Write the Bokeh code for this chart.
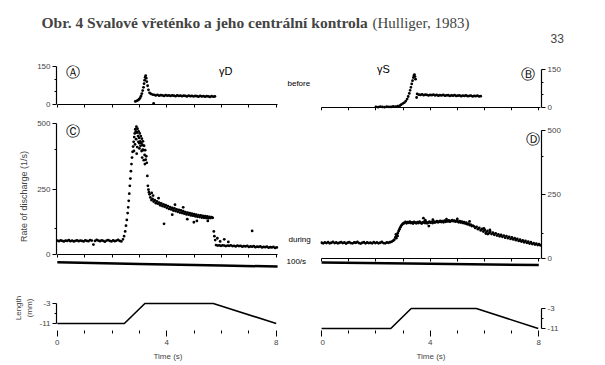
from bokeh.plotting import figure
from bokeh.layouts import column, row
from bokeh.models import Range1d, FixedTicker, Label, Spacer
from bokeh.embed import file_html
from bokeh.resources import INLINE

# ---------------- data ----------------
TITLE_BOLD = "Obr. 4 Svalové vřeténko a jeho centrální kontrola"
TITLE_REF = "(Hulliger, 1983)"
PAGE_NO = "33"

TIME_MAJOR = [0, 4, 8]
TIME_MINOR = [1, 2, 3, 5, 6, 7]
TIME_ALL = [0, 1, 2, 3, 4, 5, 6, 7, 8]
RATE_TICKS_SMALL = [0, 150]
RATE_MINOR_SMALL = [50, 100]
RATE_TICKS_BIG = [0, 250, 500]
RATE_MINOR_BIG = [100, 400]
LEN_TICKS = [-11, -3]
LEN_MINOR = [-7]

# (A) gamma-D, before
a_t = [2.85, 2.90, 2.95, 2.99, 3.03, 3.06, 3.09, 3.12, 3.15, 3.17, 3.19, 3.21, 3.23, 3.25, 3.27, 3.30, 3.33, 3.37, 3.52,
       3.42, 3.48, 3.54, 3.60, 3.66, 3.72, 3.78, 3.84, 3.90, 3.96, 4.02, 4.08, 4.14, 4.20, 4.26, 4.32, 4.38, 4.44, 4.50, 4.56,
       4.62, 4.68, 4.74, 4.80, 4.86, 4.92, 4.98, 5.04, 5.10, 5.16, 5.22, 5.28, 5.34, 5.40, 5.46, 5.52, 5.58, 5.64, 5.70, 5.76]
a_v = [12, 14, 17, 21, 27, 34, 43, 55, 68, 82, 96, 108, 114, 104, 90, 74, 58, 46, 4,
       42, 39, 38, 36, 38, 35, 37, 36, 34, 37, 35, 36, 34, 36, 35, 33, 36, 34, 35, 33,
       35, 34, 32, 35, 33, 34, 32, 34, 33, 31, 34, 32, 33, 31, 33, 32, 30, 33, 31, 32]

# (B) gamma-S, before
b_t = [2.00, 2.08, 2.16, 2.24, 2.32, 2.40, 2.48, 2.56, 2.64, 2.72, 2.80, 2.88,
       2.93, 2.99, 3.05, 3.10, 3.15, 3.19, 3.23, 3.26, 3.29, 3.32, 3.35, 3.38, 3.40, 3.42, 3.44, 3.46, 3.50,
       3.52, 3.58, 3.64, 3.70, 3.76, 3.82, 3.88, 3.94, 4.00, 4.06, 4.12, 4.18, 4.24, 4.30, 4.36, 4.42, 4.48, 4.54, 4.60, 4.66,
       4.72, 4.78, 4.84, 4.90, 4.96, 5.02, 5.08, 5.14, 5.20, 5.26, 5.32, 5.38, 5.44, 5.50, 5.56, 5.62, 5.68, 5.74, 5.80, 5.86]
b_v = [3, 2, 4, 3, 2, 4, 3, 3, 5, 4, 6, 8,
       12, 16, 20, 26, 34, 44, 56, 68, 80, 93, 106, 118, 126, 130, 122, 112, 40,
       54, 51, 50, 52, 49, 51, 50, 48, 50, 49, 51, 48, 50, 47, 49, 48, 50, 47, 48, 49,
       46, 48, 47, 49, 46, 47, 48, 45, 47, 46, 48, 45, 46, 47, 44, 46, 45, 47, 44, 45]

# (C) gamma-D, during
c_base_t = [0.00, 0.06, 0.12, 0.18, 0.24, 0.30, 0.36, 0.42, 0.48, 0.54, 0.60, 0.66, 0.72, 0.78, 0.84, 0.90, 0.96, 1.02,
            1.08, 1.14, 1.20, 1.26, 1.32, 1.38, 1.44, 1.50, 1.56, 1.62, 1.68, 1.74, 1.80, 1.86, 1.92, 1.98, 2.04, 2.10,
            2.16, 2.22, 2.28, 2.34, 2.40]
c_base_v = [53, 51, 54, 52, 50, 53, 52, 55, 51, 53, 50, 52, 54, 51, 53, 52, 50, 54, 52, 51, 55, 53, 38, 52, 56, 53,
            51, 54, 52, 49, 53, 55, 52, 50, 54, 51, 53, 56, 52, 50, 58]
c_rise_t = [2.44, 2.48, 2.51, 2.54, 2.57, 2.59, 2.61, 2.63, 2.65, 2.67, 2.69, 2.71, 2.73, 2.75, 2.77, 2.79, 2.81, 2.83,
            2.85, 2.87, 2.89, 2.91, 2.93, 2.95, 2.97, 2.99, 3.01, 3.03, 3.05, 3.07, 3.09, 3.11, 3.13, 3.15, 3.17, 3.19,
            3.21, 3.23, 3.25, 3.27, 3.29, 3.31, 3.33, 3.35, 3.37]
c_rise_v = [70, 88, 110, 132, 158, 180, 205, 232, 262, 290, 318, 345, 370, 392, 412, 430, 448, 462, 478, 470, 488, 465,
            480, 452, 470, 445, 462, 432, 452, 425, 442, 418, 432, 398, 415, 380, 398, 362, 375, 350, 300, 262, 248,
            238, 230]
c_peak_t = [2.80, 2.84, 2.88, 2.90, 2.92, 2.96, 3.00, 3.00, 3.04, 3.08, 3.10, 3.12, 3.16, 3.20]
c_peak_v = [395, 420, 440, 385, 410, 430, 405, 425, 415, 395, 370, 400, 360, 345]
c_decay_t = [3.40, 3.44, 3.48, 3.52, 3.56, 3.60, 3.64, 3.68, 3.72, 3.76, 3.80, 3.84, 3.88, 3.92, 3.96, 4.00, 4.04, 4.08,
             4.12, 4.16, 4.20, 4.24, 4.28, 4.32, 4.36, 4.40, 4.44, 4.48, 4.52, 4.56, 4.60, 4.64, 4.68, 4.72, 4.76, 4.80,
             4.84, 4.88, 4.92, 4.96, 5.00, 5.04, 5.08, 5.12, 5.16, 5.20, 5.24, 5.28, 5.32, 5.36, 5.40, 5.44, 5.48, 5.52,
             5.56, 5.60, 5.64, 5.68]
c_decay_v = [218, 208, 212, 202, 207, 196, 203, 194, 198, 188, 195, 185, 191, 182, 188, 178, 185, 174, 181, 172,
             178, 168, 176, 166, 172, 163, 170, 160, 168, 158, 165, 156, 162, 153, 160, 152, 158, 149, 156, 148,
             154, 146, 152, 144, 150, 143, 149, 141, 147, 140, 146, 139, 145, 138, 144, 139, 143, 140]
c_extra_t = [3.45, 3.50, 3.70, 3.90, 4.20, 4.30, 4.60, 4.75, 4.99, 5.10, 5.50, 5.72, 5.74, 5.77, 5.85, 5.95, 6.10, 6.25, 7.12]
c_extra_v = [235, 225, 215, 117, 152, 190, 180, 135, 123, 128, 128, 88, 70, 55, 62, 50, 58, 48, 90]
c_low_t = [5.80, 5.86, 5.92, 5.98, 6.04, 6.10, 6.16, 6.22, 6.28, 6.34, 6.40, 6.46, 6.52, 6.58, 6.64, 6.70, 6.76, 6.82,
           6.88, 6.94, 7.00, 7.06, 7.12, 7.18, 7.24, 7.30, 7.36, 7.42, 7.48, 7.54, 7.60, 7.66, 7.72, 7.78, 7.84, 7.90,
           7.96, 8.02]
c_low_v = [36, 34, 35, 33, 35, 34, 32, 34, 33, 35, 32, 33, 31, 34, 32, 33, 30, 32, 31, 33, 29, 31, 30, 32, 28, 30,
           29, 31, 27, 29, 28, 30, 26, 28, 27, 29, 25, 27]
c_cal_t = [0.0, 3.0, 6.0, 8.05]
c_cal_v = [-30, -36, -42, -46]

# (D) gamma-S, during
d_base_t = [0.00, 0.06, 0.12, 0.18, 0.24, 0.30, 0.36, 0.42, 0.48, 0.54, 0.60, 0.66, 0.72, 0.78, 0.84, 0.90, 0.96, 1.02,
            1.08, 1.14, 1.20, 1.26, 1.32, 1.38, 1.44, 1.50, 1.56, 1.62, 1.68, 1.74, 1.80, 1.86, 1.92, 1.98, 2.04, 2.10,
            2.16, 2.22, 2.28, 2.34, 2.40, 2.46, 2.52, 2.58, 2.64]
d_base_v = [62, 60, 63, 61, 64, 60, 62, 65, 61, 63, 60, 62, 64, 61, 63, 59, 62, 64, 61, 60, 63, 62, 65, 61, 59, 62,
            64, 60, 63, 61, 62, 60, 64, 61, 63, 60, 62, 65, 61, 60, 63, 62, 64, 66, 70]
d_rise_t = [2.68, 2.72, 2.74, 2.75, 2.78, 2.80, 2.81, 2.84, 2.87, 2.90, 2.93, 2.96, 2.99, 3.02]
d_rise_v = [74, 84, 95, 80, 92, 88, 100, 108, 115, 122, 128, 132, 136, 138]
d_plat_t = [3.05, 3.09, 3.13, 3.17, 3.21, 3.25, 3.29, 3.33, 3.37, 3.41, 3.45, 3.49, 3.53, 3.57, 3.61, 3.65, 3.69, 3.73,
            3.77, 3.81, 3.85, 3.89, 3.93, 3.97, 4.01, 4.05, 4.09, 4.13, 4.17, 4.21, 4.25, 4.29, 4.33, 4.37, 4.41, 4.45,
            4.49, 4.53, 4.57, 4.61, 4.65, 4.69, 4.73, 4.77, 4.81, 4.85, 4.89, 4.93, 4.97, 5.01, 5.05, 5.09, 5.13, 5.17,
            5.21, 5.25, 5.29, 5.33, 5.37, 5.41, 5.45, 5.49, 5.53, 5.57]
d_plat_v = [139, 143, 138, 142, 140, 144, 139, 141, 137, 143, 140, 138, 142, 139, 144, 140, 137, 141, 143, 139,
            142, 138, 141, 144, 140, 143, 139, 145, 141, 143, 146, 142, 144, 147, 143, 146, 142, 148, 144, 147,
            145, 149, 144, 147, 150, 146, 148, 144, 147, 145, 142, 146, 141, 144, 139, 142, 137, 140, 134, 137,
            131, 133, 127, 129]
d_decay_t = [5.61, 5.66, 5.71, 5.76, 5.81, 5.86, 5.91, 5.96, 6.01, 6.06, 6.11, 6.16, 6.21, 6.26, 6.31, 6.36, 6.41, 6.46,
             6.51, 6.56, 6.61, 6.66, 6.71, 6.76, 6.81, 6.86, 6.91, 6.96, 7.01, 7.06, 7.11, 7.16, 7.21, 7.26, 7.31, 7.36,
             7.41, 7.46, 7.51, 7.56, 7.61, 7.66, 7.71, 7.76, 7.81, 7.86, 7.91, 7.96, 8.01, 8.06]
d_decay_v = [126, 120, 124, 115, 120, 110, 116, 106, 112, 102, 108, 99, 105, 96, 101, 93, 99, 90, 95, 87,
             93, 85, 90, 82, 88, 80, 85, 77, 83, 75, 80, 72, 77, 69, 74, 67, 71, 64, 69, 62,
             66, 59, 64, 57, 61, 55, 59, 53, 57, 52]
d_extra_t = [3.75, 3.82, 3.95, 4.10, 4.60, 5.00, 5.45, 5.98, 6.05, 6.12, 6.20, 2.76]
d_extra_v = [158, 150, 127, 152, 154, 155, 145, 118, 98, 96, 112, 88]
d_cal_t = [0.0, 4.0, 8.0]
d_cal_v = [-15, -20, -25]

# muscle length (mm)
len_l_t = [0.0, 2.45, 3.2, 5.7, 8.0]
len_l_v = [-11, -11, -3, -3, -11]
len_r_t = [0.0, 2.55, 3.3, 5.7, 7.98]
len_r_v = [-11, -11, -3, -3, -11]

# ---------------- layout helpers ----------------
FONT = "Liberation Sans"
TICK_FS = "8px"


def yr(v_a, y_a, v_b, y_b, top, bottom):
    s = (y_a - y_b) / (v_b - v_a)
    return Range1d(v_a - (bottom - y_a) / s, v_a + (y_a - top) / s)


def mk(w, h, xr, yrange, bl, br, bt, bb, yloc="left"):
    p = figure(width=w, height=h, x_range=xr, y_range=yrange, output_backend="svg",
               toolbar_location=None, min_border_left=bl, min_border_right=br,
               min_border_top=bt, min_border_bottom=bb, y_axis_location=yloc)
    p.grid.visible = False
    p.outline_line_color = None
    return p


def blank(w, h):
    p = figure(width=w, height=h, x_range=Range1d(0, w), y_range=Range1d(0, h),
               output_backend="svg", toolbar_location=None, x_axis_type=None, y_axis_type=None,
               min_border_left=0, min_border_right=0, min_border_top=0, min_border_bottom=0)
    p.grid.visible = False
    p.outline_line_color = None
    return p


def style_y(ax, ticks, minor, bounds):
    ax.ticker = FixedTicker(ticks=ticks, minor_ticks=minor)
    ax.bounds = bounds
    ax.major_tick_out = 4
    ax.major_tick_in = 0
    ax.minor_tick_out = 2
    ax.minor_tick_in = 0
    ax.axis_line_width = 1.2
    ax.major_label_text_font = FONT
    ax.major_label_text_font_size = TICK_FS
    ax.major_label_standoff = 2
    ax.axis_label_text_font = FONT
    ax.axis_label_text_font_size = "9px"
    ax.axis_label_text_font_style = "normal"


def zero_x(p):
    ax = p.xaxis[0]
    ax.fixed_location = 0
    ax.ticker = FixedTicker(ticks=[], minor_ticks=TIME_ALL)
    ax.bounds = (0, 8.05)
    ax.major_tick_out = 0
    ax.major_tick_in = 0
    ax.minor_tick_out = 3
    ax.minor_tick_in = 0
    ax.axis_line_width = 1.2


def time_x(p):
    ax = p.xaxis[0]
    ax.ticker = FixedTicker(ticks=TIME_MAJOR, minor_ticks=TIME_MINOR)
    ax.axis_line_color = None
    ax.major_tick_out = 6
    ax.major_tick_in = 0
    ax.minor_tick_out = 3
    ax.minor_tick_in = 0
    ax.major_label_text_font = FONT
    ax.major_label_text_font_size = TICK_FS
    ax.major_label_standoff = 3
    ax.axis_label = "Time (s)"
    ax.axis_label_text_font = FONT
    ax.axis_label_text_font_size = "8px"
    ax.axis_label_text_font_style = "normal"
    ax.axis_label_standoff = 4


def txt(p, x, y, t, size="8px", align="left", font=FONT, style="normal"):
    p.add_layout(Label(x=x, y=y, text=t, text_font=font, text_font_size=size,
                       text_align=align, text_baseline="middle", text_font_style=style,
                       text_color="black"))


def dots(p, t, v):
    p.scatter(t, v, marker="circle", size=2.8, color="black", line_width=0)


LW, MW, RW = 284, 36, 285
LXR = lambda: Range1d(-0.03, 8.12)
RXR = lambda: Range1d(-0.04, 8.1)

# ---------------- header ----------------
hdr = blank(605, 50)
hdr.add_layout(Label(x=41, y=28, text=TITLE_BOLD, text_font="Liberation Serif", text_font_size="15.5px",
                     text_font_style="bold", text_baseline="alphabetic"))
hdr.add_layout(Label(x=372, y=28, text=TITLE_REF, text_font="Liberation Serif", text_font_size="15px",
                     text_baseline="alphabetic"))
hdr.add_layout(Label(x=550, y=12, text=PAGE_NO, text_font="Liberation Sans", text_font_size="12px",
                     text_baseline="middle"))

# ---------------- row 1 : before ----------------
pa = mk(LW, 68, LXR(), yr(0, 104 - 50, 150, 66 - 50, 4, 60), 56, 5, 4, 8)
style_y(pa.yaxis[0], RATE_TICKS_SMALL, RATE_MINOR_SMALL, (0, 150))
zero_x(pa)
dots(pa, a_t, a_v)
txt(pa, 0.58, 127, "Ⓐ", size="14px", align="center")
txt(pa, 6.15, 131, "γD", size="11px", align="center")

m1 = blank(MW, 68)
txt(m1, 3, 33, "before")

pb = mk(RW, 68, RXR(), yr(0, 111 - 50, 150, 70 - 50, 4, 64), 0, 64, 4, 4, yloc="right")
style_y(pb.yaxis[0], RATE_TICKS_SMALL, RATE_MINOR_SMALL, (0, 150))
zero_x(pb)
dots(pb, b_t, b_v)
txt(pb, 7.59, 133, "Ⓑ", size="14px", align="center")
txt(pb, 2.28, 150, "γS", size="11px", align="center")

# ---------------- row 2 : during ----------------
pc = mk(LW, 162, LXR(), yr(0, 254 - 118, 500, 123 - 118, 2, 154), 56, 5, 2, 8)
style_y(pc.yaxis[0], RATE_TICKS_BIG, RATE_MINOR_BIG, (0, 500))
pc.yaxis[0].axis_label = "Rate of discharge (1/s)"
pc.yaxis[0].axis_label_standoff = 5
zero_x(pc)
for t, v in [(c_base_t, c_base_v), (c_rise_t, c_rise_v), (c_peak_t, c_peak_v),
             (c_decay_t, c_decay_v), (c_extra_t, c_extra_v), (c_low_t, c_low_v)]:
    dots(pc, t, v)
pc.line(c_cal_t, c_cal_v, line_width=2.5, color="black")
txt(pc, 0.58, 473, "Ⓒ", size="14px", align="center")

m2 = blank(MW, 162)
txt(m2, 4, 35, "during")
txt(m2, 2, 12, "100/s")

pd = mk(RW, 162, RXR(), yr(0, 260 - 118, 500, 130 - 118, 2, 156), 0, 64, 2, 6, yloc="right")
style_y(pd.yaxis[0], RATE_TICKS_BIG, RATE_MINOR_BIG, (0, 500))
zero_x(pd)
for t, v in [(d_base_t, d_base_v), (d_rise_t, d_rise_v), (d_plat_t, d_plat_v),
             (d_decay_t, d_decay_v), (d_extra_t, d_extra_v)]:
    dots(pd, t, v)
pd.line(d_cal_t, d_cal_v, line_width=2.5, color="black")
txt(pd, 7.77, 466, "Ⓓ", size="14px", align="center")

# ---------------- row 3 : length ----------------
pl = mk(LW, 85, LXR(), yr(-3, 303 - 280, -11, 323 - 280, 5, 50), 56, 5, 5, 35)
style_y(pl.yaxis[0], LEN_TICKS, LEN_MINOR, (-11, -3))
pl.yaxis[0].major_label_overrides = {-3: "-3", -11: "-11"}
pl.yaxis[0].axis_label = "Length\n(mm)"
pl.yaxis[0].axis_label_text_font_size = "8px"
pl.yaxis[0].axis_label_standoff = 3
time_x(pl)
pl.line(len_l_t, len_l_v, line_width=1.6, color="black")

pr = mk(RW, 85, RXR(), yr(-3, 308 - 280, -11, 328 - 280, 5, 50), 0, 64, 5, 35, yloc="right")
style_y(pr.yaxis[0], LEN_TICKS, LEN_MINOR, (-11, -3))
pr.yaxis[0].major_label_overrides = {-3: "-3", -11: "-11"}
time_x(pr)
pr.line(len_r_t, len_r_v, line_width=1.6, color="black")

layout = column(hdr, row(pa, m1, pb), row(pc, m2, pd), row(pl, Spacer(width=MW, height=85), pr))
open("out.html", "w").write(file_html(layout, INLINE))
